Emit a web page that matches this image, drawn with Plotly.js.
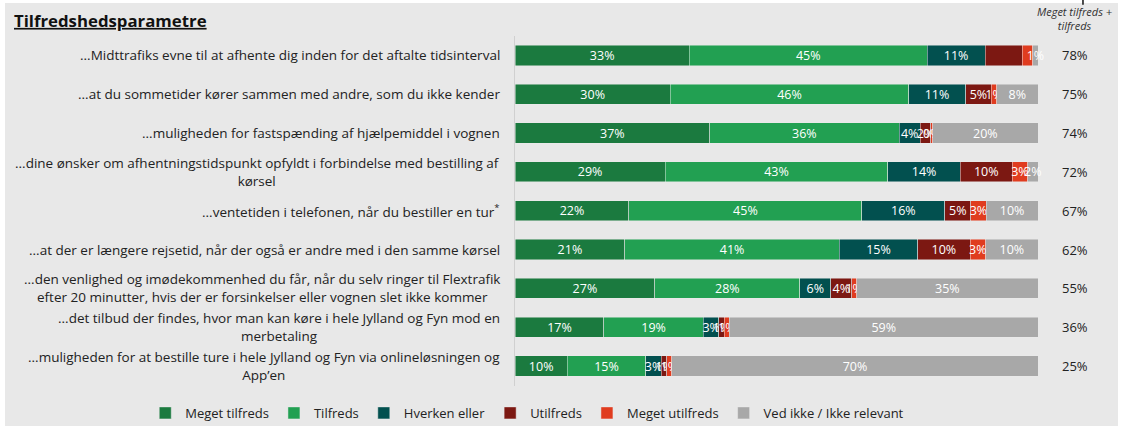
<!DOCTYPE html>
<html>
<head>
<meta charset="utf-8">
<script src="https://cdn.plot.ly/plotly-3.0.1.min.js"></script>
<style>html,body{margin:0;padding:0;background:#fff;}#chart{width:1128px;height:432px;}</style>
</head>
<body>
<div id="chart"></div>
<script>
const categories = [
  "...Midttrafiks evne til at afhente dig inden for det aftalte tidsinterval",
  "...at du sommetider kører sammen med andre, som du ikke kender",
  "...muligheden for fastspænding af hjælpemiddel i vognen",
  "...dine ønsker om afhentningstidspunkt opfyldt i forbindelse med bestilling af<br>kørsel",
  "...ventetiden i telefonen, når du bestiller en tur<sup>*</sup>",
  "...at der er længere rejsetid, når der også er andre med i den samme kørsel",
  "...den venlighed og imødekommenhed du får, når du selv ringer til Flextrafik<br>efter 20 minutter, hvis der er forsinkelser eller vognen slet ikke kommer",
  "...det tilbud der findes, hvor man kan køre i hele Jylland og Fyn mod en<br>merbetaling",
  "...muligheden for at bestille ture i hele Jylland og Fyn via onlineløsningen og<br>App’en"
];
const seriesNames = ["Meget tilfreds", "Tilfreds", "Hverken eller", "Utilfreds", "Meget utilfreds", "Ved ikke / Ikke relevant"];
const megetTilfreds  = [33, 30, 37, 29, 22, 21, 27, 17, 10];
const tilfreds       = [45, 46, 36, 43, 45, 41, 28, 19, 15];
const hverkenEller   = [11, 11, 4, 14, 16, 15, 6, 3, 3];
const utilfreds      = [7, 5, 2, 10, 5, 10, 4, 1, 1];
const megetUtilfreds = [2, 1, 0.4, 3, 3, 3, 1, 1, 1];
const vedIkke        = [1, 8, 20, 2, 10, 10, 35, 59, 70];
const topTwo         = [78, 75, 74, 72, 67, 62, 55, 36, 25];
// labels not printed in the original chart: [seriesIndex, rowIndex]
const unlabeled = [[3, 0], [4, 0]];

const colors = ["#1b7a3f", "#22a052", "#02504f", "#7c1812", "#e03c1f", "#a8a8a8"];
const series = [megetTilfreds, tilfreds, hverkenEller, utilfreds, megetUtilfreds, vedIkke];
const FONT = "'Open Sans', 'Noto Sans', sans-serif";

const traces = series.map((vals, si) => ({
  type: "bar",
  orientation: "h",
  name: seriesNames[si],
  y: categories,
  x: vals,
  customdata: vals,
  texttemplate: vals.map((v, ri) => unlabeled.some(u => u[0] === si && u[1] === ri) ? "" : "%{customdata:.0f}%"),
  textposition: "inside",
  insidetextanchor: "middle",
  constraintext: "none",
  textangle: 0,
  cliponaxis: false,
  textfont: {color: "#ffffff", size: 12.5, family: FONT},
  marker: {color: colors[si], line: {color: "rgba(235,235,235,0.8)", width: 0.6}},
  hoverinfo: "skip"
}));

const annotations = [];
categories.forEach((c, i) => {
  annotations.push({
    xref: "paper", yref: "y", x: -0.025, y: c, text: c,
    xanchor: "right", yanchor: "middle", align: "center", showarrow: false,
    font: {family: FONT, size: 13.5, color: "#222"}
  });
  annotations.push({
    xref: "paper", yref: "y", x: 1.0707, y: c, text: topTwo[i] + "%",
    xanchor: "center", yanchor: "middle", showarrow: false,
    font: {family: FONT, size: 13, color: "#222"}
  });
});
annotations.push({
  xref: "paper", yref: "paper", x: 1.07, y: 1.05, text: "<i>Meget tilfreds +<br>tilfreds</i>",
  xanchor: "center", yanchor: "middle", align: "center", showarrow: false,
  font: {family: FONT, size: 11, color: "#333"}
});

const layout = {
  width: 1128, height: 432,
  paper_bgcolor: "#ffffff", plot_bgcolor: "rgba(0,0,0,0)",
  margin: {l: 515, r: 90, t: 36, b: 46, autoexpand: false},
  barmode: "stack", barnorm: "percent", bargap: 0.48,
  font: {family: FONT, color: "#222"},
  title: {
    text: "<b><u>Tilfredshedsparametre</u></b>",
    xref: "container", yref: "container", x: 14 / 1128, xanchor: "left",
    y: 1 - 21 / 432, yanchor: "middle",
    font: {family: FONT, size: 16.8, color: "#111"}
  },
  xaxis: {range: [0, 100], showgrid: false, zeroline: false, showticklabels: false, fixedrange: true},
  yaxis: {autorange: "reversed", showticklabels: false, showgrid: false, zeroline: false,
          showline: true, linecolor: "#d0d0d0", linewidth: 1, fixedrange: true},
  showlegend: true,
  legend: {
    orientation: "h", xref: "paper", x: -0.707, xanchor: "left",
    yref: "paper", y: -0.077, yanchor: "middle",
    font: {family: FONT, size: 13, color: "#222"}, bgcolor: "rgba(0,0,0,0)",
    itemwidth: 30, traceorder: "normal", itemclick: false
  },
  shapes: [
    {type: "rect", xref: "paper", yref: "paper", x0: -0.9751, x1: 1.153, y0: -0.1143, y1: 1.0943,
     fillcolor: "#e8e8e8", line: {width: 0}, layer: "below"},
    {type: "line", xref: "paper", yref: "paper", x0: 1.086, x1: 1.086, y0: 1.089, y1: 1.103,
     line: {color: "#111", width: 1.5}}
  ],
  annotations: annotations
};

Plotly.newPlot("chart", traces, layout, {displayModeBar: false, staticPlot: true});
</script>
</body>
</html>
